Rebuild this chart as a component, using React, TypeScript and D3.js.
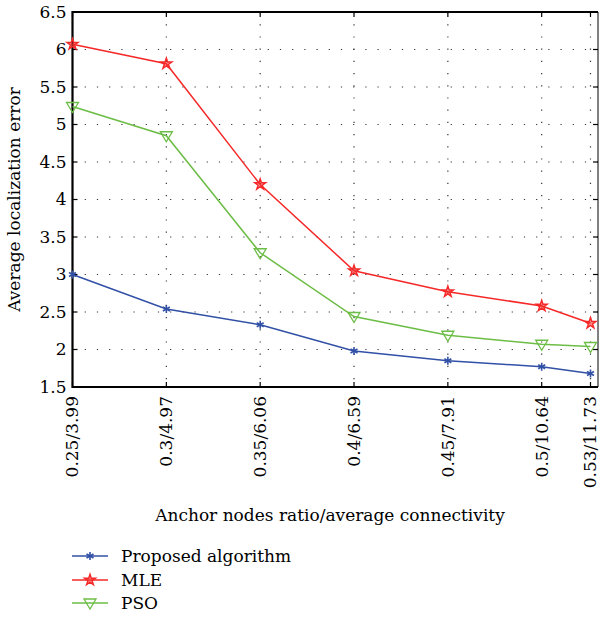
import React, { useEffect, useRef } from 'react';
import * as d3 from 'd3';

// anchor ratio positions and their tick labels
const ratios = [0.25, 0.3, 0.35, 0.4, 0.45, 0.5, 0.526];
const tickLabels = ['0.25/3.99', '0.3/4.97', '0.35/6.06', '0.4/6.59', '0.45/7.91', '0.5/10.64', '0.53/11.73'];
const yTicks = [1.5, 2, 2.5, 3, 3.5, 4, 4.5, 5, 5.5, 6, 6.5];

const proposed = [3.0, 2.54, 2.33, 1.98, 1.85, 1.77, 1.68];
const mle = [6.07, 5.81, 4.2, 3.05, 2.77, 2.58, 2.35];
const pso = [5.24, 4.85, 3.29, 2.44, 2.19, 2.07, 2.04];

const seriesNames = ['Proposed algorithm', 'MLE', 'PSO'];
const colors = ['#3150a6', '#f52828', '#6cbd45'];

export default function App() {
    const svgRef = useRef<SVGSVGElement>(null);
    const width = 600,
        height = 622;
    const margin = { top: 12, right: 2, bottom: 235, left: 72.5 };

    useEffect(() => {
        const svg = d3.select(svgRef.current);
        svg.selectAll('*').remove();
        const font = "'DejaVu Serif', serif";

        const x = d3.scaleLinear().domain([0.25, 0.53]).range([margin.left, width - margin.right]);
        const y = d3.scaleLinear().domain([1.5, 6.5]).range([height - margin.bottom, margin.top]);
        const x0 = margin.left,
            x1 = width - margin.right,
            y0 = height - margin.bottom,
            y1 = margin.top;

        // dotted grid
        const grid = svg.append('g').attr('stroke', '#333').attr('stroke-width', 1.2).attr('stroke-dasharray', '1.2,11');
        yTicks.slice(1, -1).forEach((t) => {
            grid.append('line').attr('x1', x0).attr('x2', x1).attr('y1', y(t)).attr('y2', y(t));
        });
        ratios.slice(1).forEach((r) => {
            grid.append('line').attr('x1', x(r)).attr('x2', x(r)).attr('y1', y1).attr('y2', y0);
        });

        // inward tick marks
        const ticks = svg.append('g').attr('stroke', '#000').attr('stroke-width', 1.2);
        yTicks.forEach((t) => {
            ticks.append('line').attr('x1', x0).attr('x2', x0 + 5).attr('y1', y(t)).attr('y2', y(t));
            ticks.append('line').attr('x1', x1).attr('x2', x1 - 5).attr('y1', y(t)).attr('y2', y(t));
        });
        ratios.forEach((r) => {
            ticks.append('line').attr('x1', x(r)).attr('x2', x(r)).attr('y1', y0).attr('y2', y0 - 5);
            ticks.append('line').attr('x1', x(r)).attr('x2', x(r)).attr('y1', y1).attr('y2', y1 + 5);
        });

        // frame
        svg.append('path')
            .attr('d', `M${x1},${y1}H${x0}V${y0}H${x1}`)
            .attr('fill', 'none')
            .attr('stroke', '#000')
            .attr('stroke-width', 2.2);
        svg.append('line')
            .attr('x1', x1)
            .attr('x2', x1)
            .attr('y1', y1)
            .attr('y2', y0)
            .attr('stroke', '#000')
            .attr('stroke-width', 1);

        // y tick labels
        svg.append('g')
            .selectAll('text')
            .data(yTicks)
            .join('text')
            .attr('x', x0 - 6)
            .attr('y', (d) => y(d))
            .attr('dy', '0.35em')
            .attr('text-anchor', 'end')
            .attr('font-family', font)
            .attr('font-size', 17)
            .text((d) => String(d));

        // x tick labels
        svg.append('g')
            .selectAll('text')
            .data(ratios)
            .join('text')
            .attr('transform', (d) => `translate(${x(d)},${y0 + 9}) rotate(-90)`)
            .attr('dy', '0.35em')
            .attr('text-anchor', 'end')
            .attr('font-family', font)
            .attr('font-size', 17)
            .text((d, i) => tickLabels[i]);

        // axis titles
        svg.append('text')
            .attr('transform', `translate(20,${(y0 + y1) / 2}) rotate(-90)`)
            .attr('text-anchor', 'middle')
            .attr('font-family', font)
            .attr('font-size', 17)
            .text('Average localization error');
        svg.append('text')
            .attr('x', 330)
            .attr('y', 521)
            .attr('text-anchor', 'middle')
            .attr('font-family', font)
            .attr('font-size', 17)
            .text('Anchor nodes ratio/average connectivity');

        const markers = [
            (g, cx, cy, c) => {
                // asterisk
                for (let k = 0; k < 3; k++) {
                    const a = (k * Math.PI) / 3 + Math.PI / 2;
                    g.append('line')
                        .attr('x1', cx - 4 * Math.cos(a))
                        .attr('x2', cx + 4 * Math.cos(a))
                        .attr('y1', cy - 4 * Math.sin(a))
                        .attr('y2', cy + 4 * Math.sin(a))
                        .attr('stroke', c)
                        .attr('stroke-width', 1.6);
                }
            },
            (g, cx, cy, c) => {
                g.append('path')
                    .attr('d', d3.symbol(d3.symbolStar, 38)())
                    .attr('transform', `translate(${cx},${cy})`)
                    .attr('fill', c)
                    .attr('fill-opacity', 0.5)
                    .attr('stroke', c)
                    .attr('stroke-width', 1.4);
            },
            (g, cx, cy, c) => {
                g.append('path')
                    .attr('d', `M${cx - 6},${cy - 4}H${cx + 6}L${cx},${cy + 6}Z`)
                    .attr('fill', 'none')
                    .attr('stroke', c)
                    .attr('stroke-width', 1.3);
            },
        ];

        const allSeries = [proposed, mle, pso];
        const line = d3
            .line<number>()
            .x((d, i) => x(ratios[i]))
            .y((d) => y(d));

        allSeries.forEach((vals, s) => {
            const g = svg.append('g');
            g.append('path')
                .attr('d', line(vals))
                .attr('fill', 'none')
                .attr('stroke', colors[s])
                .attr('stroke-width', 1.5);
            vals.forEach((v, i) => markers[s](g, x(ratios[i]), y(v), colors[s]));
        });

        // legend
        const legendY = [556, 580, 603];
        seriesNames.forEach((name, s) => {
            const g = svg.append('g');
            g.append('line')
                .attr('x1', 72)
                .attr('x2', 108)
                .attr('y1', legendY[s])
                .attr('y2', legendY[s])
                .attr('stroke', colors[s])
                .attr('stroke-width', 1.5);
            markers[s](g, 90, legendY[s], colors[s]);
            g.append('text')
                .attr('x', 121)
                .attr('y', legendY[s])
                .attr('dy', '0.35em')
                .attr('font-family', font)
                .attr('font-size', 17)
                .text(name);
        });
    }, []);

    return (
        <svg
            ref={svgRef}
            width={width}
            height={height}
            style={{ position: 'absolute', left: 0, top: 0, background: '#fff' }}
        />
    );
}
